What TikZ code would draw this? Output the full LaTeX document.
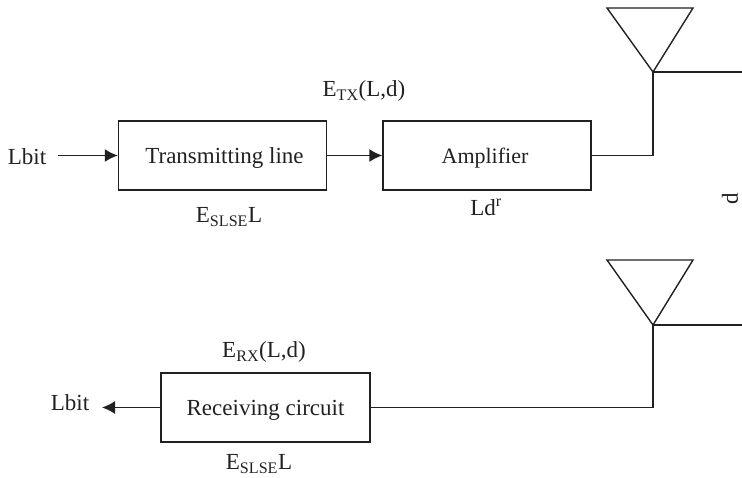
\documentclass[tikz,border=0pt]{standalone}
\usepackage{fontspec}
\setmainfont{Liberation Serif}
\usetikzlibrary{arrows.meta}
\definecolor{ink}{gray}{0.13}
\tikzset{
 blockbox/.style={draw=ink,text=ink,line width=1.4pt,inner sep=0,font=\fontsize{23}{25}\selectfont},
 lab/.style={inner sep=0,text=ink,font=\fontsize{23}{25}\selectfont},
 wire/.style={draw=ink,line width=1.4pt},
 arr/.style={draw=ink,line width=1.4pt,-{Latex[length=13pt,width=13pt]}}
}
\newcommand{\lsub}[1]{\textsubscript{#1}}
\newcommand{\dn}[1]{\raisebox{-7.5pt}[0pt][0pt]{#1}}
\begin{document}
\begin{tikzpicture}[x=1pt,y=-1pt,line join=miter]
\useasboundingbox (0,0) rectangle (742,477);
\node[blockbox,minimum width=208,minimum height=69] (tx) at (222.5,155.5) {\hspace{4pt}\dn{Transmitting line}};
\node[blockbox,minimum width=208,minimum height=69] (amp) at (487,155.5) {\hspace{-4pt}\dn{\fontsize{22}{24}\selectfont Amplifier}};
\node[blockbox,minimum width=209,minimum height=69] (rx) at (265.5,407.5) {\dn{Receiving circuit}};
\node[lab] (lin) at (27,157) {Lbit};
\node[lab] (lout) at (70,403) {Lbit};
\node[lab] (etx) at (364,91) {E\lsub{TX}(L,d)};
\node[lab] (esl1) at (229,217) {E\lsub{SLSE}L};
\node[lab] (ld) at (486,207) {Ld\textsuperscript{r}};
\node[lab] (erx) at (264,352) {E\lsub{RX}(L,d)};
\node[lab] (esl2) at (259,464) {E\lsub{SLSE}L};
\node[lab,rotate=90] (dd) at (730,199) {d};
\coordinate (a1) at (653,72);
\coordinate (a2) at (653,325);
\coordinate (s1) at (58,155.5);
\coordinate (s2) at (102,407.5);
\draw[wire] (607,8) -- (693,8) -- (a1) -- cycle;
\draw[wire] (607,260) -- (693,260) -- (a2) -- cycle;
\coordinate (e1) at (742,72);
\coordinate (e2) at (742,325);
\draw[wire] (e1) -- (a1) |- (amp.east);
\draw[wire] (e2) -- (a2) |- (rx.east);
\draw[arr] (s1) -- (tx.west);
\draw[arr] (tx.east) -- (amp.west);
\draw[arr] (rx.west) -- (s2);
\end{tikzpicture}
\end{document}
